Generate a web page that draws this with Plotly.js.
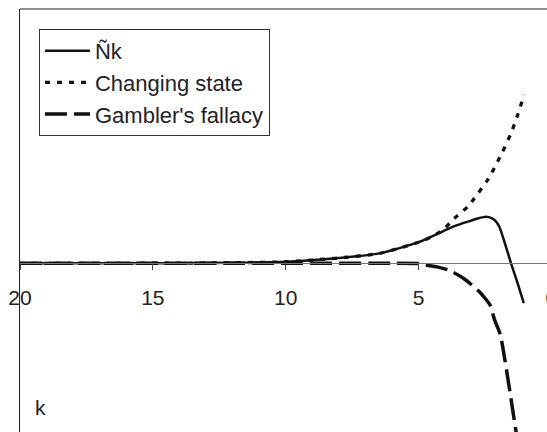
<!DOCTYPE html>
<html>
<head>
<meta charset="utf-8">
<script src="https://cdn.plot.ly/plotly-3.0.1.min.js"></script>
<style>
html, body { margin: 0; padding: 0; overflow: hidden; background: #fff; }
#chart { width: 600px; height: 450px; }
</style>
</head>
<body>
<div id="chart"></div>
<script>
// Series names
const seriesNames = ["Ñk", "Changing state", "Gambler's fallacy"];

// Ñk (solid)
const nkX = [20, 16, 14, 12, 10, 8, 6.47, 5, 4.1, 3.6, 3.08, 2.75, 2.46, 2.25, 2.1, 1.96, 1.71, 1.52, 1.27, 1.04];
const nkY = [0, 0, 0.005, 0.02, 0.06, 0.21, 0.39, 0.83, 1.25, 1.48, 1.66, 1.77, 1.83, 1.78, 1.66, 1.44, 0.65, 0, -0.79, -1.57];

// Changing state (dotted)
const csX = [20, 16, 14, 12, 10, 8, 6.47, 5, 4.5, 4.09, 3.65, 3.15, 2.9, 2.4, 2.09, 1.84, 1.52, 1.27, 1.03];
const csY = [0, 0, 0.005, 0.02, 0.06, 0.21, 0.39, 0.83, 1.05, 1.31, 1.77, 2.23, 2.56, 3.28, 3.87, 4.39, 5.12, 5.84, 6.63];

// Gambler's fallacy (dashed)
const gfX = [20, 10, 6, 5, 4.85, 4.3, 3.84, 3.3, 2.71, 2.31, 2.14, 1.92, 1.33, 1.0];
const gfY = [0, 0, 0, -0.01, -0.05, -0.14, -0.28, -0.6, -1.12, -1.64, -2.23, -2.82, -6.63, -8.76];

// Axis ticks
const tickVals = [20, 15, 10, 5, 0];
const tickText = ["20", "15", "10", "5", "0"];
const xLabel = "k";

const FONT = "Liberation Sans, Arial, sans-serif";

const traces = [
  { x: nkX, y: nkY, name: seriesNames[0], mode: "lines", legendgroup: "a",
    line: { color: "#111", width: 2.5, shape: "spline", smoothing: 0.6 } },
  { x: csX, y: csY, name: seriesNames[1], mode: "lines", legendgroup: "b",
    line: { color: "#111", width: 3.3, dash: "5px,7px", shape: "spline", smoothing: 0.6 } },
  { x: gfX, y: gfY, name: seriesNames[2], mode: "lines", legendgroup: "c",
    line: { color: "#111", width: 3.5, dash: "22px,7px", shape: "spline", smoothing: 0.5 } }
];

const layout = {
  width: 600, height: 450,
  margin: { l: 20, r: 21.8, t: 9, b: 0, pad: 0 },
  paper_bgcolor: "#fff", plot_bgcolor: "#fff",
  font: { family: FONT, size: 21, color: "#222" },
  showlegend: true,
  legend: {
    x: 0.034, y: 0.9546, xanchor: "left", yanchor: "top",
    bgcolor: "#fff", bordercolor: "#333", borderwidth: 1,
    font: { family: FONT, size: 22, color: "#222" },
    traceorder: "grouped", tracegroupgap: 0, itemwidth: 45
  },
  xaxis: {
    range: [20, -1], anchor: "free", position: 0.4234,
    showgrid: false, zeroline: false,
    showline: true, linecolor: "#777", linewidth: 1,
    ticks: "outside", ticklen: 6, tickcolor: "#444", tickwidth: 1,
    ticklabelstandoff: 10,
    tickvals: tickVals, ticktext: tickText,
    tickfont: { family: FONT, size: 21, color: "#222" }
  },
  yaxis: {
    range: [-7.35, 10.01],
    showgrid: false, zeroline: false,
    showline: true, linecolor: "#222", linewidth: 1.5,
    ticks: "", showticklabels: false
  },
  shapes: [
    { type: "line", xref: "paper", yref: "paper", x0: 0, x1: 1, y0: 1, y1: 1,
      line: { color: "#222", width: 1 } }
  ],
  annotations: [
    { text: xLabel, xref: "paper", yref: "paper", x: 0.0376, y: 0.0975,
      xanchor: "center", yanchor: "middle", showarrow: false,
      font: { family: FONT, size: 21, color: "#222" } }
  ]
};

Plotly.newPlot("chart", traces, layout, { displayModeBar: false, staticPlot: true });
</script>
</body>
</html>
